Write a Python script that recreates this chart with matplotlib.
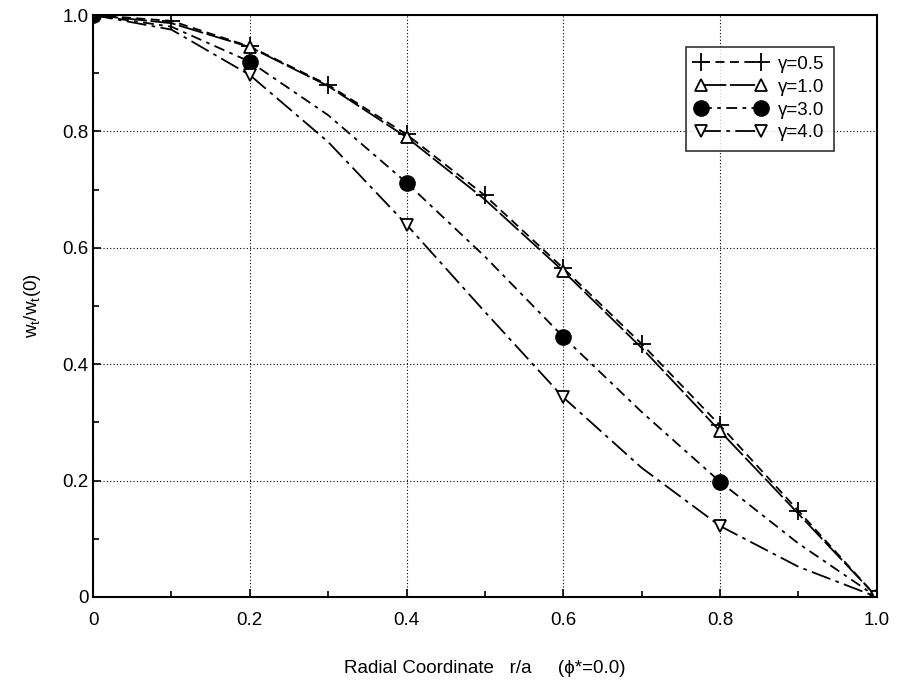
import matplotlib
matplotlib.use("Agg")
import matplotlib.pyplot as plt
from matplotlib.ticker import MultipleLocator

plt.rcParams['font.family'] = ['Liberation Sans', 'DejaVu Sans']

# radial coordinate r/a
r = [0.0, 0.1, 0.2, 0.3, 0.4, 0.5, 0.6, 0.7, 0.8, 0.9, 1.0]

# w_t / w_t(0) for each gamma
g05 = [1.0, 0.990, 0.946, 0.880, 0.795, 0.690, 0.565, 0.435, 0.295, 0.148, 0.0]
g10 = [1.0, 0.986, 0.945, 0.878, 0.790, 0.683, 0.560, 0.428, 0.285, 0.143, 0.0]
g30 = [1.0, 0.980, 0.920, 0.828, 0.712, 0.585, 0.447, 0.318, 0.198, 0.092, 0.0]
g40 = [1.0, 0.975, 0.897, 0.782, 0.640, 0.490, 0.343, 0.222, 0.122, 0.052, 0.0]

labels = ['\u03b3=0.5', '\u03b3=1.0', '\u03b3=3.0', '\u03b3=4.0']
xticks = [0, 0.2, 0.4, 0.6, 0.8, 1.0]
xticklabels = ['0', '0.2', '0.4', '0.6', '0.8', '1.0']
yticks = [0, 0.2, 0.4, 0.6, 0.8, 1.0]
yticklabels = ['0', '0.2', '0.4', '0.6', '0.8', '1.0']

fig = plt.figure(figsize=(9.05, 6.85), dpi=100)
ax = fig.add_axes([0.1028, 0.1285, 0.866, 0.8495])

k = 'black'
ax.plot(r, g05, color=k, lw=1.3, ls=(0, (5, 3)), marker='+', ms=13, mew=1.3,
        markevery=1, label=labels[0])
ax.plot(r, g10, color=k, lw=1.3, ls=(0, (14, 2)), marker='^', ms=9, mew=1.3,
        mfc='white', mec=k, markevery=2, label=labels[1])
ax.plot(r, g30, color=k, lw=1.3, ls=(0, (6, 3, 2, 3)), marker='o', ms=11,
        mfc=k, mec=k, markevery=2, label=labels[2])
ax.plot(r, g40, color=k, lw=1.3, ls=(0, (11, 3, 2, 3)), marker='v', ms=9, mew=1.3,
        mfc='white', mec=k, markevery=2, label=labels[3])

ax.set_xlim(0, 1.0)
ax.set_ylim(0, 1.0)
ax.set_xticks(xticks)
ax.set_xticklabels(xticklabels)
ax.set_yticks(yticks)
ax.set_yticklabels(yticklabels)
ax.xaxis.set_minor_locator(MultipleLocator(0.1))
ax.yaxis.set_minor_locator(MultipleLocator(0.1))
ax.tick_params(which='both', direction='in', top=False, right=False,
               labelsize=13.5, width=1.2)
ax.tick_params(which='major', length=6)
ax.tick_params(which='minor', length=4)
ax.tick_params(axis='x', which='major', pad=11)
ax.tick_params(axis='y', which='major', pad=3)
ax.grid(True, which='major', color=k, ls=(0, (1, 2)), lw=0.8)
for s in ax.spines.values():
    s.set_linewidth(1.5)
    s.set_color(k)

ax.set_xlabel('Radial Coordinate   r/a     (\u03d5*=0.0)', fontsize=13.5, labelpad=22)
ax.set_ylabel('w$_\\mathregular{t}$/w$_\\mathregular{t}$(0)', fontsize=13.5, labelpad=14)

leg = ax.legend(loc='upper right', bbox_to_anchor=(0.957, 0.962), numpoints=2,
                handlelength=3.8, fontsize=13.5, frameon=True, fancybox=False,
                edgecolor=k, borderpad=0.5, labelspacing=0.3, handletextpad=0.6)
leg.get_frame().set_linewidth(1.2)

fig.savefig('out.png', dpi=100)
